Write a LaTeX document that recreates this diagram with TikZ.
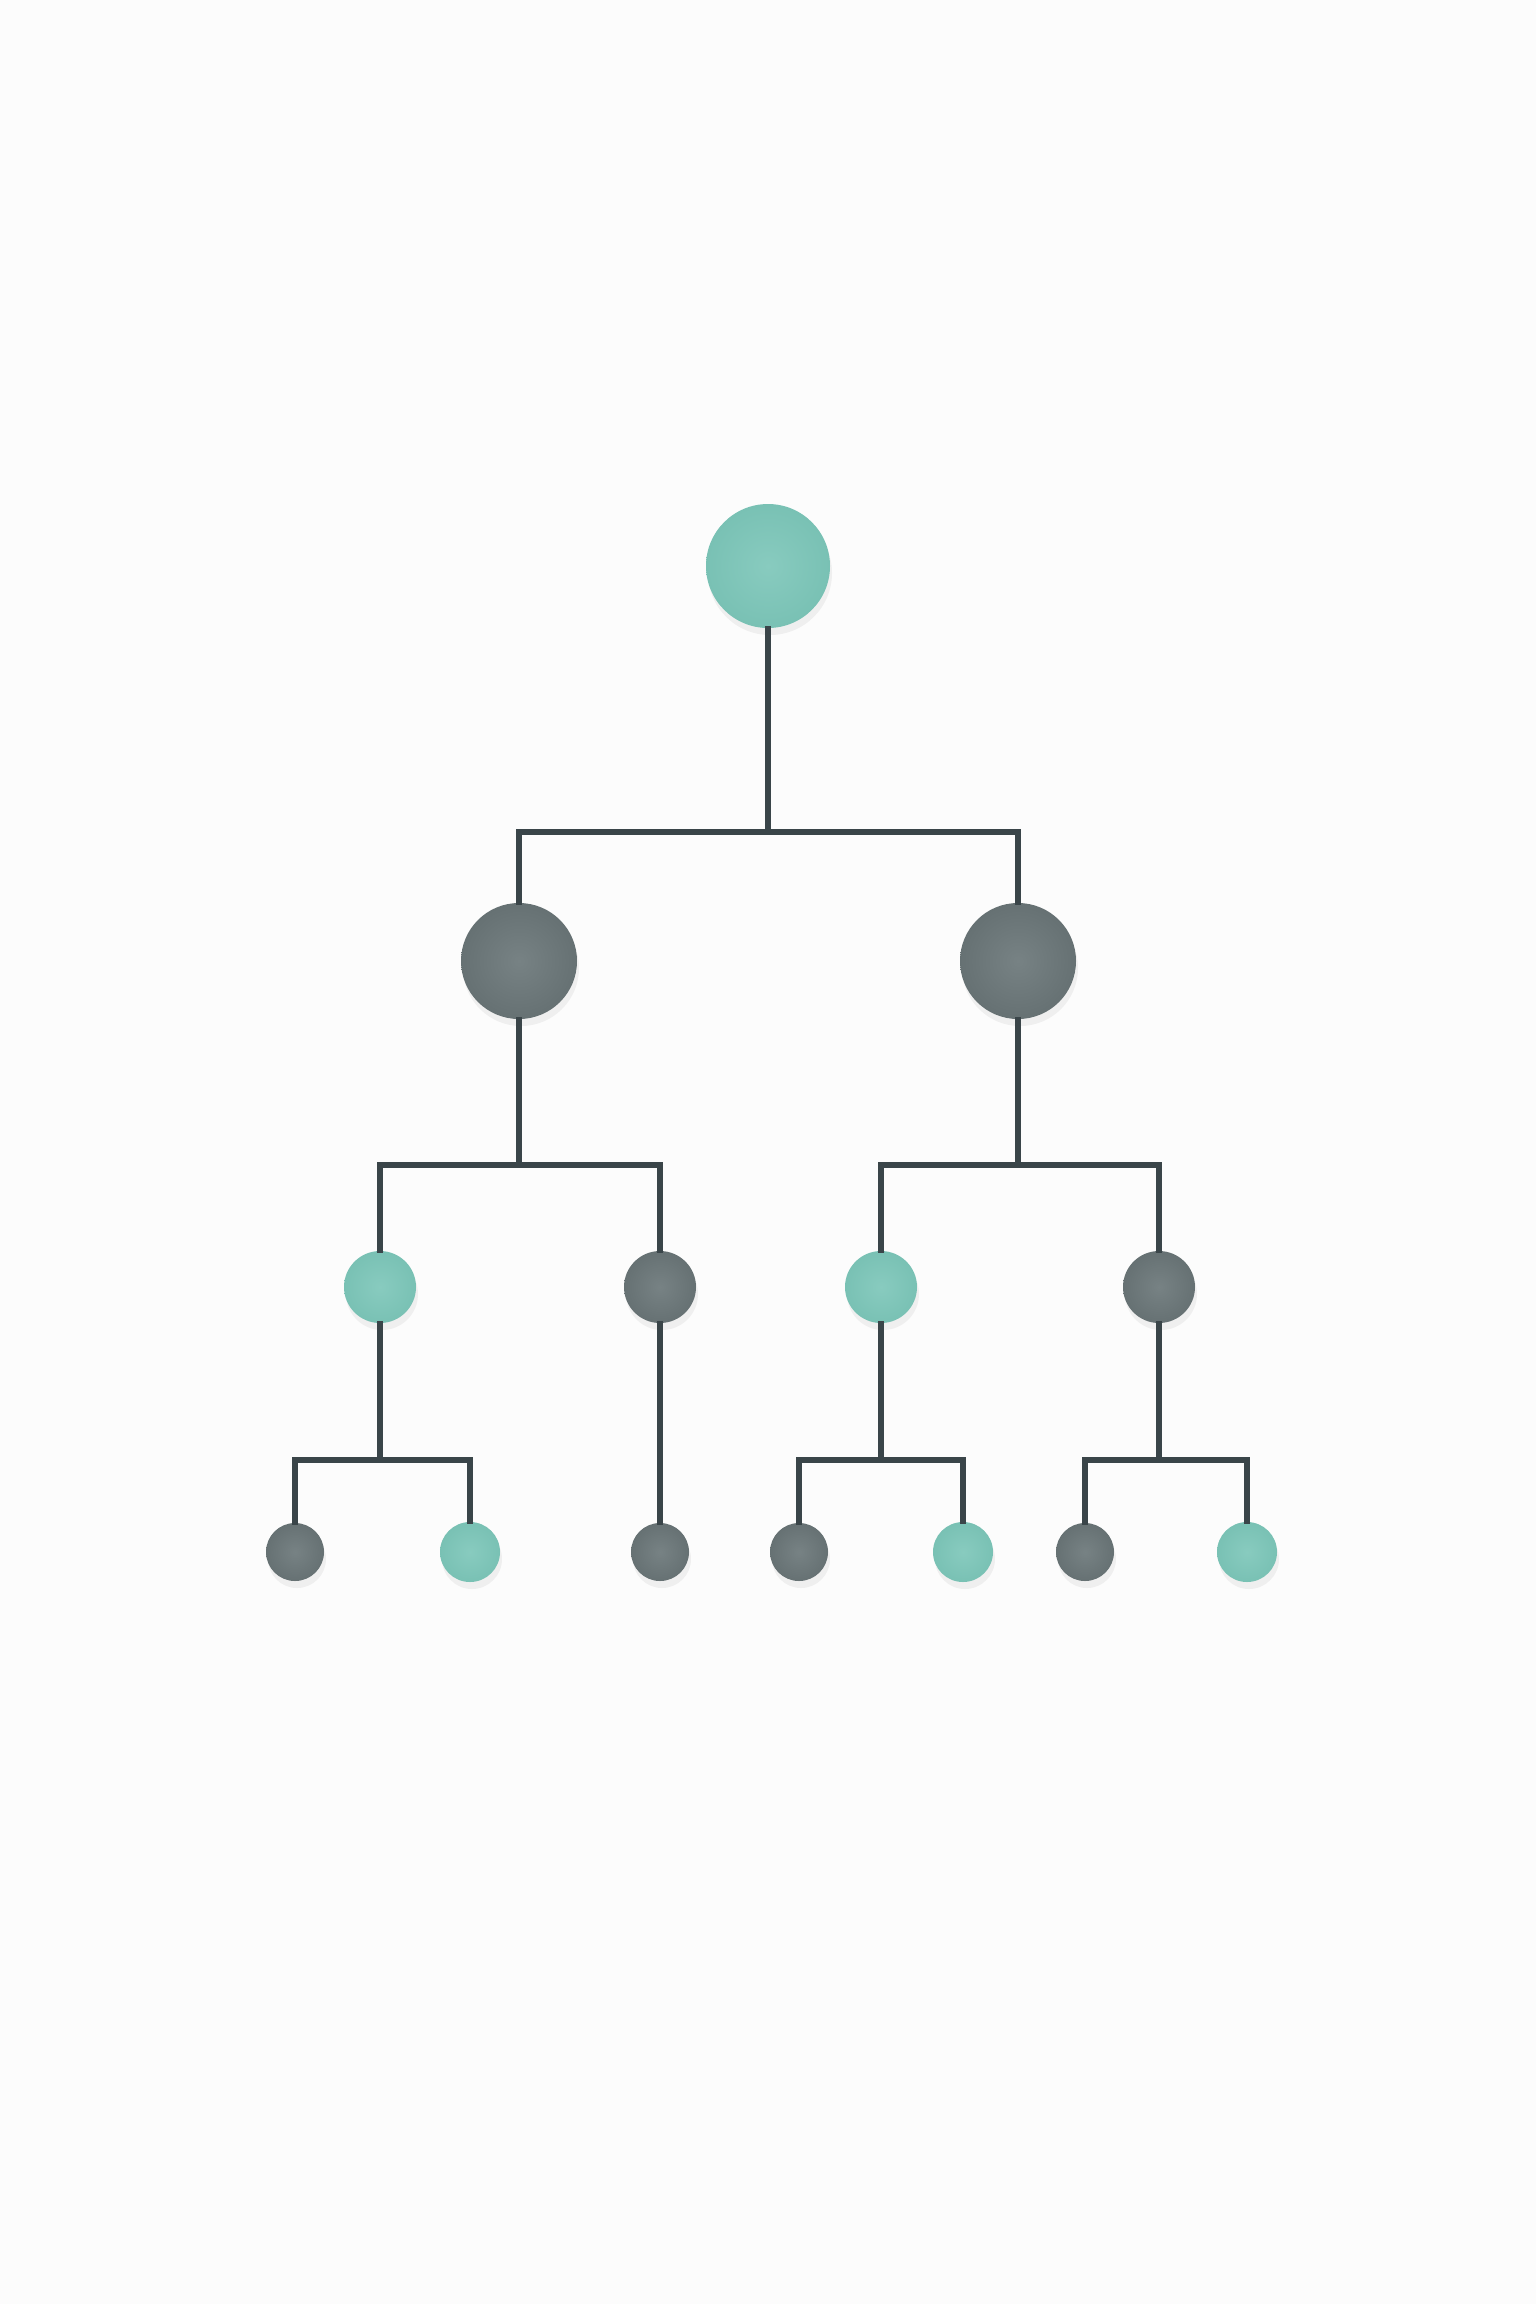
\documentclass[tikz,border=0pt]{standalone}
\usetikzlibrary{shadows}
\definecolor{teal1}{HTML}{79C1B4}
\definecolor{tealhi}{HTML}{88CBBF}
\definecolor{grey1}{HTML}{667173}
\definecolor{greyhi}{HTML}{778284}
\definecolor{wire}{HTML}{3A4549}
\definecolor{bg}{HTML}{FCFCFC}
\tikzset{
  ball/.style={circle, inner sep=0pt, draw=none,
    drop shadow={opacity=0.07, shadow xshift=1pt, shadow yshift=-3.5pt, fill=black!70}},
  tealball/.style={ball, inner color=tealhi, outer color=teal1},
  greyball/.style={ball, inner color=greyhi, outer color=grey1},
  wireline/.style={draw=wire, line width=2.6pt, line join=miter, line cap=rect},
}
\begin{document}
\begin{tikzpicture}[x=0.5pt, y=-0.5pt]
\fill[bg] (0,0) rectangle (1536,2304);
\useasboundingbox (0,0) rectangle (1536,2304);
% nodes
\node[tealball, minimum size=62pt] (root) at (768,566) {};
\node[greyball, minimum size=58pt] (a) at (519,961) {};
\node[greyball, minimum size=58pt] (b) at (1018,961) {};
\node[tealball, minimum size=36pt] (c1) at (380,1287) {};
\node[greyball, minimum size=36pt] (c2) at (660,1287) {};
\node[tealball, minimum size=36pt] (c3) at (881,1287) {};
\node[greyball, minimum size=36pt] (c4) at (1159,1287) {};
\node[greyball, minimum size=29pt] (l1) at (295,1552) {};
\node[tealball, minimum size=30pt] (l2) at (470,1552) {};
\node[greyball, minimum size=29pt] (l3) at (660,1552) {};
\node[greyball, minimum size=29pt] (l4) at (799,1552) {};
\node[tealball, minimum size=30pt] (l5) at (963,1552) {};
\node[greyball, minimum size=29pt] (l6) at (1085,1552) {};
\node[tealball, minimum size=30pt] (l7) at (1247,1552) {};
% junctions
\coordinate (j0) at (768,832);
\coordinate (ja) at (519,1165);
\coordinate (jb) at (1018,1165);
\coordinate (jc1) at (380,1460);
\coordinate (jc3) at (881,1460);
\coordinate (jc4) at (1159,1460);
% connectors
\draw[wireline] (root.south) -- (j0);
\draw[wireline] (a.north) |- (j0) -| (b.north);
\draw[wireline] (a.south) -- (ja);
\draw[wireline] (c1.north) |- (ja) -| (c2.north);
\draw[wireline] (b.south) -- (jb);
\draw[wireline] (c3.north) |- (jb) -| (c4.north);
\draw[wireline] (c1.south) -- (jc1);
\draw[wireline] (l1.north) |- (jc1) -| (l2.north);
\draw[wireline] (c2.south) -- (l3.north);
\draw[wireline] (c3.south) -- (jc3);
\draw[wireline] (l4.north) |- (jc3) -| (l5.north);
\draw[wireline] (c4.south) -- (jc4);
\draw[wireline] (l6.north) |- (jc4) -| (l7.north);
\end{tikzpicture}
\end{document}
